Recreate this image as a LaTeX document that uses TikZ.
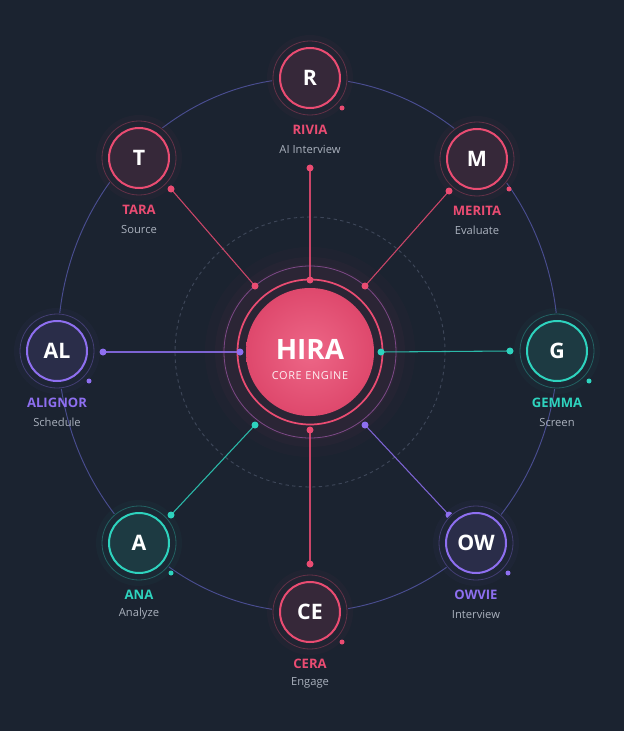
\documentclass[tikz,border=0pt]{standalone}
\usepackage{fontspec}
\setmainfont{Open Sans}
\definecolor{bg}{HTML}{1B2330}
\definecolor{pk}{HTML}{EA4C72}
\definecolor{pu}{HTML}{8E6FF0}
\definecolor{tl}{HTML}{2ED3BE}
\definecolor{desc}{HTML}{AAB1BD}
\definecolor{orb}{HTML}{5558A8}
\definecolor{dashc}{HTML}{3E4759}
\tikzset{
  agent/.style={circle, inner sep=0pt, minimum size=45pt, line width=1.5pt, text=white,
    font=\fontsize{16}{16}\selectfont\bfseries},
  nm/.style={font=\fontsize{9.8}{10}\selectfont\bfseries, inner sep=0pt},
  ds/.style={font=\fontsize{8.4}{9}\selectfont, text=desc, inner sep=0pt},
  spoke/.style={line width=0.8pt},
  orbit/.style={draw=orb, line width=0.7pt, opacity=0.8},
}
\begin{document}
\begin{tikzpicture}[x=0.75pt,y=-0.75pt]
\fill[bg] (0,0) rectangle (624,731);
\useasboundingbox (0,0) rectangle (624,731);
% hub glow
\foreach \r/\o in {105/0.025,95/0.03,88/0.035}{
  \fill[pk, opacity=\o] (310,352) circle (\r);
}
% dashed ring
\draw[dashc, line width=0.7pt, dash pattern=on 2.5pt off 2.5pt] (310,352) circle (135);
% orbit
\draw[orbit] (308,345) ellipse [x radius=250, y radius=267];
% hub coordinates
\coordinate (hT)  at (310,280);
\coordinate (hB)  at (310,430);
\coordinate (hL)  at (240,352);
\coordinate (hR)  at (381,352);
\coordinate (hTL) at (255,286);
\coordinate (hTR) at (365,286);
\coordinate (hBL) at (255,425);
\coordinate (hBR) at (365,425);
% spoke end coordinates
\coordinate (eR)  at (310,168);
\coordinate (eT)  at (171,189);
\coordinate (eM)  at (449,191);
\coordinate (eAL) at (103,352);
\coordinate (eG)  at (510,351);
\coordinate (eA)  at (171,515);
\coordinate (eOW) at (449,515);
\coordinate (eCE) at (310,564);
% spokes
\foreach \h/\e/\c in {hT/eR/pk, hTL/eT/pk, hTR/eM/pk, hL/eAL/pu, hR/eG/tl, hBL/eA/tl, hBR/eOW/pu, hB/eCE/pk}{
  \draw[spoke, \c, opacity=0.85] (\h) -- (\e);
  \fill[\c] (\e) circle (3.5);
}
% hub rings
\draw[pu!60!pk, opacity=0.6, line width=0.6pt] (310,352) circle (86);
\draw[pk, line width=1.3pt] (310,352) circle (72.5);
\shade[inner color=pk!85!white, outer color=pk!95!black] (310,352) circle (64);
\node[inner sep=0pt, circle, minimum size=96pt] (hub) at (310,352) {};
\node[text=white, font=\fontsize{21}{21}\selectfont\bfseries, inner sep=0pt] (hubname) at (310,349) {HIRA};
\node[text=white!92!pk, font=\fontsize{8.2}{9}\selectfont\addfontfeatures{LetterSpace=6}, inner sep=0pt] (hubsub) at (310,376) {CORE ENGINE};
% hub dots
\foreach \h/\c in {hT/pk, hB/pk, hL/pu, hR/tl, hTL/pk, hTR/pk, hBL/tl, hBR/pu}{
  \fill[\c] (\h) circle (3.5);
}
% agents
\foreach \id/\px/\py/\ini/\nmt/\dst/\cl in {
  R/310/78/R/RIVIA/AI Interview/pk,
  M/477/159/M/MERITA/Evaluate/pk,
  G/557/351/G/GEMMA/Screen/tl,
  OW/476/543/OW/OWVIE/Interview/pu,
  CE/310/612/CE/CERA/Engage/pk,
  A/139/543/A/ANA/Analyze/tl,
  AL/57/351/AL/ALIGNOR/Schedule/pu,
  T/139/158/T/TARA/Source/pk}{
  \fill[bg] (\px,\py) circle (38);
  \fill[\cl, opacity=0.03] (\px,\py) circle (43);
  \draw[\cl!35!bg, line width=0.6pt] (\px,\py) circle (37);
  \node[agent, draw=\cl, fill=\cl!13!bg] (\id) at (\px,\py) {\ini};
  \fill[\cl] (\px+32,\py+30) circle (2.5);
  \node[nm, text=\cl] (\id-name) at (\px,\py+52) {\nmt};
  \node[ds] (\id-desc) at (\px,\py+71) {\dst};
}
\end{tikzpicture}
\end{document}
